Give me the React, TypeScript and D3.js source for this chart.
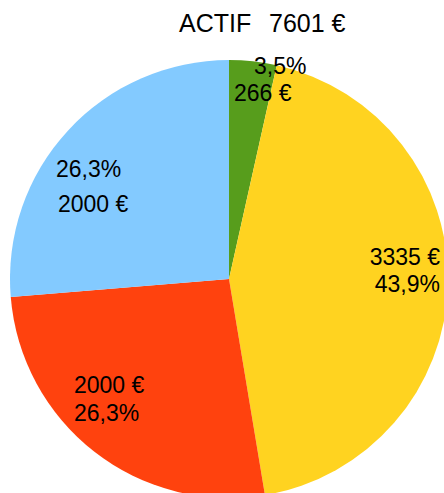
import React from "react";
import * as d3 from "d3";

const categories = ["A", "B", "C", "D"];
const values = [266, 3335, 2000, 2000];
const percentLabels = ["3,5%", "43,9%", "26,3%", "26,3%"];
const valueLabels = ["266 €", "3335 €", "2000 €", "2000 €"];
const colors = ["#579d1c", "#ffd320", "#ff420e", "#83caff"];
const titleParts = ["ACTIF", "7601 €"];

const W = 444;
const H = 493;
const cx = 229;
const cy = 279;
const R = 219;

// label layout: [line1, line2] per slice with positions
const labelLayout = [
  { lines: [percentLabels[0], valueLabels[0]], xs: [254, 234], ys: [74, 101], anchor: "start" },
  { lines: [valueLabels[1], percentLabels[1]], xs: [440, 440], ys: [265, 292], anchor: "end" },
  { lines: [valueLabels[2], percentLabels[2]], xs: [74, 74], ys: [393, 421], anchor: "start" },
  { lines: [percentLabels[3], valueLabels[3]], xs: [56, 58], ys: [177, 212], anchor: "start" },
];

export default function App() {
  const pie = d3.pie<number>().sort(null).value((d) => d);
  const arcs = pie(values);
  const arc = d3.arc<d3.PieArcDatum<number>>().innerRadius(0).outerRadius(R);
  return (
    <svg
      width={W}
      height={H}
      style={{ position: "absolute", left: 0, top: 0, background: "#fff" }}
      fontFamily="'Liberation Sans', Arial, sans-serif"
    >
      <rect width={W} height={H} fill="#fff" />
      <g transform={`translate(${cx},${cy})`}>
        {arcs.map((a, i) => (
          <path key={categories[i]} d={arc(a) || ""} fill={colors[i]} />
        ))}
      </g>
      <text x={179} y={32} fontSize={25} fill="#000">
        <tspan>{titleParts[0]}</tspan>
        <tspan x={269}>{titleParts[1]}</tspan>
      </text>
      {labelLayout.map((l, i) =>
        l.lines.map((t, j) => (
          <text
            key={`${i}-${j}`}
            x={l.xs[j]}
            y={l.ys[j]}
            fontSize={23}
            textAnchor={l.anchor as any}
            fill="#000"
          >
            {t}
          </text>
        ))
      )}
    </svg>
  );
}
